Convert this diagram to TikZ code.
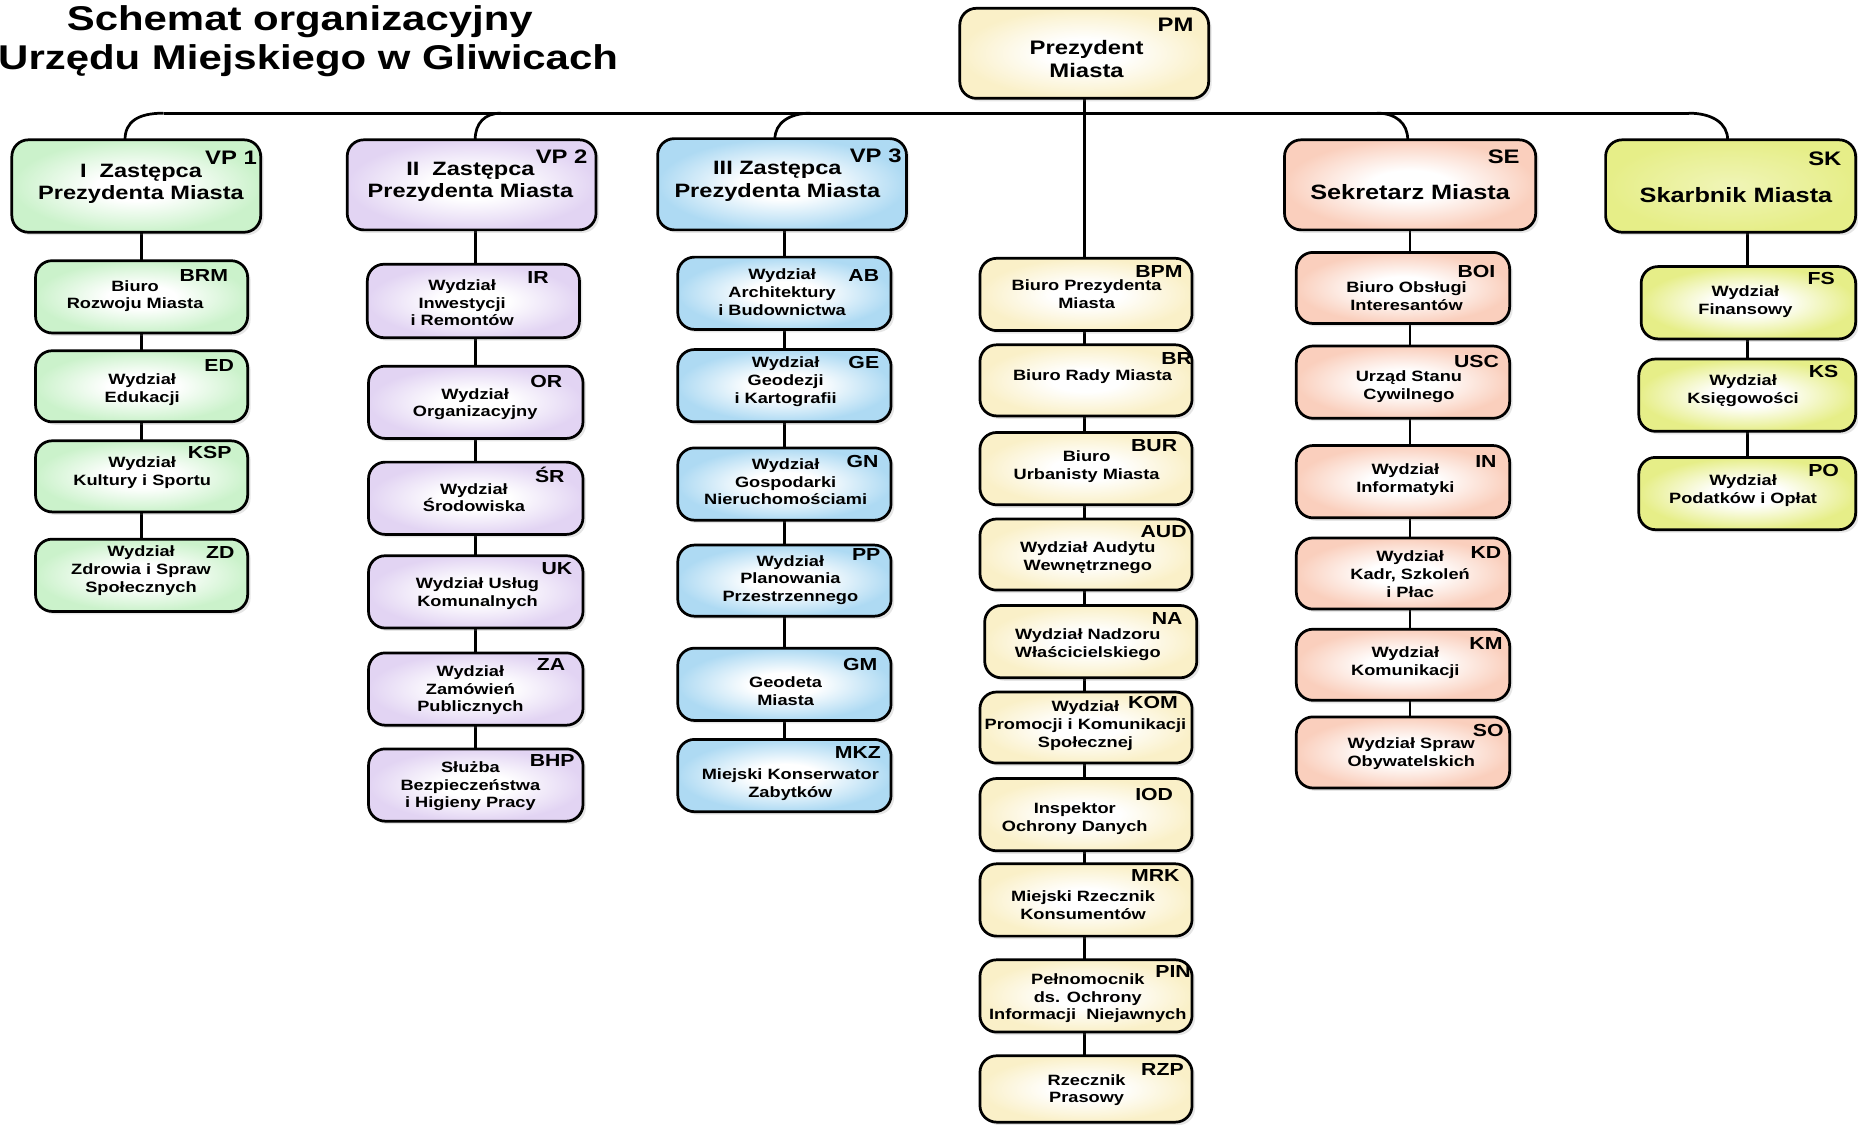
\documentclass[tikz,border=0pt]{standalone}
\usepackage{fontspec}
\setmainfont{Liberation Sans}[FakeStretch=1.22]
\usetikzlibrary{shadows,backgrounds}

\definecolor{cgreen}{HTML}{CBF2CB}
\definecolor{clav}{HTML}{E2D4F3}
\definecolor{cblue}{HTML}{AEDAF3}
\definecolor{ccream}{HTML}{FAF0C8}
\definecolor{csalm}{HTML}{FACFBD}
\definecolor{cyel}{HTML}{E6EE88}
\colorlet{cyelin}{cyel!60!white}

\pgfdeclareradialshading{shgreen}{\pgfpoint{0bp}{0bp}}{color(0bp)=(white); color(8bp)=(white); color(25bp)=(cgreen); color(50bp)=(cgreen)}
\pgfdeclareradialshading{shlav}{\pgfpoint{0bp}{0bp}}{color(0bp)=(white); color(8bp)=(white); color(25bp)=(clav); color(50bp)=(clav)}
\pgfdeclareradialshading{shblue}{\pgfpoint{0bp}{0bp}}{color(0bp)=(white); color(8bp)=(white); color(25bp)=(cblue); color(50bp)=(cblue)}
\pgfdeclareradialshading{shcream}{\pgfpoint{0bp}{0bp}}{color(0bp)=(white); color(8bp)=(white); color(25bp)=(ccream); color(50bp)=(ccream)}
\pgfdeclareradialshading{shsalm}{\pgfpoint{0bp}{0bp}}{color(0bp)=(white); color(8bp)=(white); color(25bp)=(csalm); color(50bp)=(csalm)}
\pgfdeclareradialshading{shyel}{\pgfpoint{0bp}{0bp}}{color(0bp)=(white); color(8bp)=(white); color(25bp)=(cyel); color(50bp)=(cyel)}
\pgfdeclareradialshading{shyelh}{\pgfpoint{0bp}{0bp}}{color(0bp)=(cyelin); color(25bp)=(cyel); color(50bp)=(cyel)}

\tikzset{
  orgbox/.style={draw=black, line width=2.3pt, rounded corners=14pt, inner sep=0pt, outer sep=0pt,
    drop shadow={shadow xshift=2.5pt, shadow yshift=-2.5pt, opacity=0.2, fill=black!50}, shade},
  bgreen/.style={orgbox, shading=shgreen},
  blav/.style={orgbox, shading=shlav},
  bblue/.style={orgbox, shading=shblue},
  bcream/.style={orgbox, shading=shcream},
  bsalm/.style={orgbox, shading=shsalm},
  byel/.style={orgbox, shading=shyel},
  byelh/.style={orgbox, shading=shyelh},
  conn/.style={line width=2.3pt, draw=black},
  txt/.style={font=\bfseries\fontsize{12.6}{15}\selectfont, align=center, inner sep=0pt},
  htxt/.style={font=\bfseries\fontsize{16.3}{19}\selectfont, align=center, inner sep=0pt},
  hbig/.style={font=\bfseries\fontsize{17.5}{20}\selectfont, align=center, inner sep=0pt},
  code/.style={font=\bfseries\fontsize{14.7}{15}\selectfont, inner sep=0pt, text height=10.5pt, text depth=0pt},
  hcode/.style={font=\bfseries\fontsize{16.5}{17}\selectfont, inner sep=0pt, text height=11.8pt, text depth=0pt},
  titletxt/.style={font=\bfseries\fontsize{29}{33}\selectfont, inner sep=0pt, anchor=base}
}

% box node from its outer edges (x1,y1)-(x2,y2), y measured downwards
\newcommand\obox[6]{%
  \node[#2, minimum width={(#5-#3)*1pt}, minimum height={(#6-#4)*1pt}] (#1) at ({(#3+#5)/2},{(#4+#6)/2}) {};}

\begin{document}
\begin{tikzpicture}[x=1pt,y=-1pt]
\useasboundingbox (0,0) rectangle (1568,949);

% title
\node[titletxt] (title1) at (253,26) {Schemat organizacyjny};
\node[titletxt] (title2) at (260,59) {Urzędu Miejskiego w Gliwicach};

% ---------- President
\obox{PM}{bcream}{810}{7}{1020}{83}
\node[hcode] (PMc) at (992,21) {PM};
\node[font=\bfseries\fontsize{16.5}{19}\selectfont, align=center, inner sep=0pt] (PMt) at (917,50) {Prezydent\\Miasta};

% ---------- column 1 (green)
\obox{VP1}{bgreen}{10}{118}{220}{196}
\node[hcode] (VP1c) at (195,133) {VP 1};
\node[htxt] (VP1t) at (119,155) {I~~Zastępca\\Prezydenta Miasta};
\obox{BRM}{bgreen}{30}{220}{209}{281}
\node[code] (BRMc) at (172,232) {BRM};
\node[txt] (BRMt) at (114,250) {Biuro\\Rozwoju Miasta};
\obox{ED}{bgreen}{30}{296}{209}{356}
\node[code] (EDc) at (185,308) {ED};
\node[txt] (EDt) at (120,329) {Wydział\\Edukacji};
\obox{KSP}{bgreen}{30}{372}{209}{432}
\node[code] (KSPc) at (177,382) {KSP};
\node[txt] (KSPt) at (120,399) {Wydział\\Kultury i Sportu};
\obox{ZD}{bgreen}{30}{455}{209}{516}
\node[code] (ZDc) at (186,466) {ZD};
\node[txt] (ZDt) at (119,481.5) {Wydział\\Zdrowia i Spraw\\Społecznych};

% ---------- column 2 (lavender)
\obox{VP2}{blav}{293}{118}{503}{194}
\node[hcode] (VP2c) at (474,132) {VP 2};
\node[htxt] (VP2t) at (397,153.5) {II~~Zastępca\\Prezydenta Miasta};
\obox{IR}{blav}{310}{223}{489}{285}
\node[code] (IRc) at (454,234) {IR};
\node[txt] (IRt) at (390,255.5) {Wydział\\Inwestycji\\i Remontów};
\obox{OR}{blav}{311}{309}{492}{370}
\node[code] (ORc) at (461,322) {OR};
\node[txt] (ORt) at (401,341) {Wydział\\Organizacyjny};
\obox{SR}{blav}{311}{390}{492}{451}
\node[code] (SRc) at (464,402) {ŚR};
\node[txt] (SRt) at (400,420) {Wydział\\Środowiska};
\obox{UK}{blav}{311}{469}{492}{530}
\node[code] (UKc) at (470,480) {UK};
\node[txt] (UKt) at (403,501) {Wydział Usług\\Komunalnych};
\obox{ZA}{blav}{311}{551}{492}{612}
\node[code] (ZAc) at (465,561) {ZA};
\node[txt] (ZAt) at (397,582.5) {Wydział\\Zamówień\\Publicznych};
\obox{BHP}{blav}{311}{632}{492}{693}
\node[code] (BHPc) at (466,642) {BHP};
\node[txt] (BHPt) at (397,663.5) {Służba\\Bezpieczeństwa\\i Higieny Pracy};

% ---------- column 3 (blue)
\obox{VP3}{bblue}{555}{117}{765}{194}
\node[hcode] (VP3c) at (739,131) {VP 3};
\node[htxt] (VP3t) at (656,153) {III Zastępca\\Prezydenta Miasta};
\obox{AB}{bblue}{572}{217}{752}{278}
\node[code] (ABc) at (729,232) {AB};
\node[txt] (ABt) at (660,246.5) {Wydział\\Architektury\\i Budownictwa};
\obox{GE}{bblue}{572}{295}{752}{356}
\node[code] (GEc) at (729,306) {GE};
\node[txt] (GEt) at (663,322) {Wydział\\Geodezji\\i Kartografii};
\obox{GN}{bblue}{572}{378}{752}{439}
\node[code] (GNc) at (728,389) {GN};
\node[txt] (GNt) at (663,406.5) {Wydział\\Gospodarki\\Nieruchomościami};
\obox{PP}{bblue}{572}{460}{752}{520}
\node[code] (PPc) at (731,468) {PP};
\node[txt] (PPt) at (667,489.5) {Wydział\\Planowania\\Przestrzennego};
\obox{GM}{bblue}{572}{547}{752}{608}
\node[code] (GMc) at (726,561) {GM};
\node[txt] (GMt) at (663,583) {Geodeta\\Miasta};
\obox{MKZ}{bblue}{572}{624}{752}{685}
\node[code] (MKZc) at (724,635) {MKZ};
\node[txt] (MKZt) at (667,662) {Miejski Konserwator\\Zabytków};

% ---------- centre column (cream)
\obox{BPM}{bcream}{827}{218}{1006}{279}
\node[code] (BPMc) at (978,229) {BPM};
\node[txt] (BPMt) at (917,248) {Biuro Prezydenta\\Miasta};
\obox{BR}{bcream}{827}{291}{1006}{351}
\node[code] (BRc) at (993,302) {BR};
\node[txt] (BRt) at (922,317.5) {Biuro Rady Miasta};
\obox{BUR}{bcream}{827}{365}{1006}{426}
\node[code] (BURc) at (974,376) {BUR};
\node[txt] (BURt) at (917,394) {Biuro\\Urbanisty Miasta};
\obox{AUD}{bcream}{827}{438}{1006}{498}
\node[code] (AUDc) at (982,448) {AUD};
\node[txt] (AUDt) at (918,470.5) {Wydział Audytu\\Wewnętrznego};
\obox{NA}{bcream}{831}{511}{1010}{572}
\node[code] (NAc) at (985,522) {NA};
\node[txt] (NAt) at (918,544) {Wydział Nadzoru\\Właścicielskiego};
\obox{KOM}{bcream}{827}{584}{1006}{644}
\node[code] (KOMc) at (973,593) {KOM};
\node[txt] (KOMt) at (916,612.5) {Wydział\\Promocji i Komunikacji\\Społecznej};
\obox{IOD}{bcream}{827}{657}{1006}{718}
\node[code] (IODc) at (974,670) {IOD};
\node[txt] (IODt) at (907,691) {Inspektor\\Ochrony Danych};
\obox{MRK}{bcream}{827}{729}{1006}{790}
\node[code] (MRKc) at (975,739) {MRK};
\node[txt] (MRKt) at (914,764) {Miejski Rzecznik\\Konsumentów};
\obox{PIN}{bcream}{827}{810}{1006}{871}
\node[code] (PINc) at (990,820) {PIN};
\node[txt] (PINt) at (918,842.5) {Pełnomocnik\\ds. Ochrony\\Informacji~~Niejawnych};
\obox{RZP}{bcream}{827}{891}{1006}{947}
\node[code] (RZPc) at (981,902) {RZP};
\node[txt] (RZPt) at (917,920) {Rzecznik\\Prasowy};

% ---------- column SE (salmon)
\obox{SE}{bsalm}{1084}{118}{1296}{194}
\node[hcode] (SEc) at (1269,132) {SE};
\node[hbig] (SEt) at (1190,162) {Sekretarz Miasta};
\obox{BOI}{bsalm}{1094}{213}{1274}{273}
\node[code] (BOIc) at (1246,229) {BOI};
\node[txt] (BOIt) at (1187,250) {Biuro Obsługi\\Interesantów};
\obox{USC}{bsalm}{1094}{292}{1274}{353}
\node[code] (USCc) at (1246,305) {USC};
\node[txt] (USCt) at (1189,326) {Urząd Stanu\\Cywilnego};
\obox{IN}{bsalm}{1094}{376}{1274}{437}
\node[code] (INc) at (1254,389) {IN};
\node[txt] (INt) at (1186,405) {Wydział\\Informatyki};
\obox{KD}{bsalm}{1094}{454}{1274}{514}
\node[code] (KDc) at (1254,466) {KD};
\node[txt] (KDt) at (1190,484.5) {Wydział\\Kadr, Szkoleń\\i Płac};
\obox{KM}{bsalm}{1094}{531}{1274}{591}
\node[code] (KMc) at (1254,543) {KM};
\node[txt] (KMt) at (1186,559) {Wydział\\Komunikacji};
\obox{SO}{bsalm}{1094}{605}{1274}{665}
\node[code] (SOc) at (1256,616) {SO};
\node[txt] (SOt) at (1191,636) {Wydział Spraw\\Obywatelskich};

% ---------- column SK (yellow-green)
\obox{SK}{byelh}{1355}{118}{1566}{196}
\node[hcode] (SKc) at (1540,134) {SK};
\node[hbig] (SKt) at (1465,165) {Skarbnik Miasta};
\obox{FS}{byel}{1385}{225}{1566}{286}
\node[code] (FSc) at (1537,235) {FS};
\node[txt] (FSt) at (1473,254.5) {Wydział\\Finansowy};
\obox{KS}{byel}{1383}{303}{1566}{364}
\node[code] (KSc) at (1539,313) {KS};
\node[txt] (KSt) at (1471,330) {Wydział\\Księgowości};
\obox{PO}{byel}{1383}{386}{1566}{447}
\node[code] (POc) at (1539,397) {PO};
\node[txt] (POt) at (1471,414) {Wydział\\Podatków i Opłat};

% ---------- connectors
\begin{pgfonlayer}{background}
\coordinate (b1) at (138,95.5);
\coordinate (b2) at (423,95.5);
\coordinate (b3) at (684,95.5);
\coordinate (b4) at (1162,95.5);
\coordinate (b5) at (1425,95.5);
\draw[conn] (b1) -- (b5);
\draw[conn] (b1) .. controls (116,95.5) and (105.5,103) .. ([xshift=-9.5pt]VP1.north);
\draw[conn] (b2) .. controls (409,95.5) and (401,104) .. ([xshift=3pt]VP2.north);
\draw[conn] (b3) .. controls (666,95.5) and (654,104) .. ([xshift=-6pt]VP3.north);
\draw[conn] (b4) .. controls (1178,95.5) and (1188,104) .. ([xshift=-2pt]SE.north);
\draw[conn] (b5) .. controls (1445,95.5) and (1458,104) .. ([xshift=-2.5pt]SK.north);
\draw[conn] (PM.south) -- (PM.south |- RZP.north);
\draw[conn] (VP1.south -| BRM.north) -- (ZD.north);
\draw[conn] (VP2.south -| OR.north) -- (BHP.north);
\draw[conn] (VP3.south -| AB.north) -- (MKZ.north);
\draw[conn] (SE.south) -- (SE.south |- SO.north);
\draw[conn] (SK.south -| PO.north) -- (PO.north);
\end{pgfonlayer}
\end{tikzpicture}
\end{document}
